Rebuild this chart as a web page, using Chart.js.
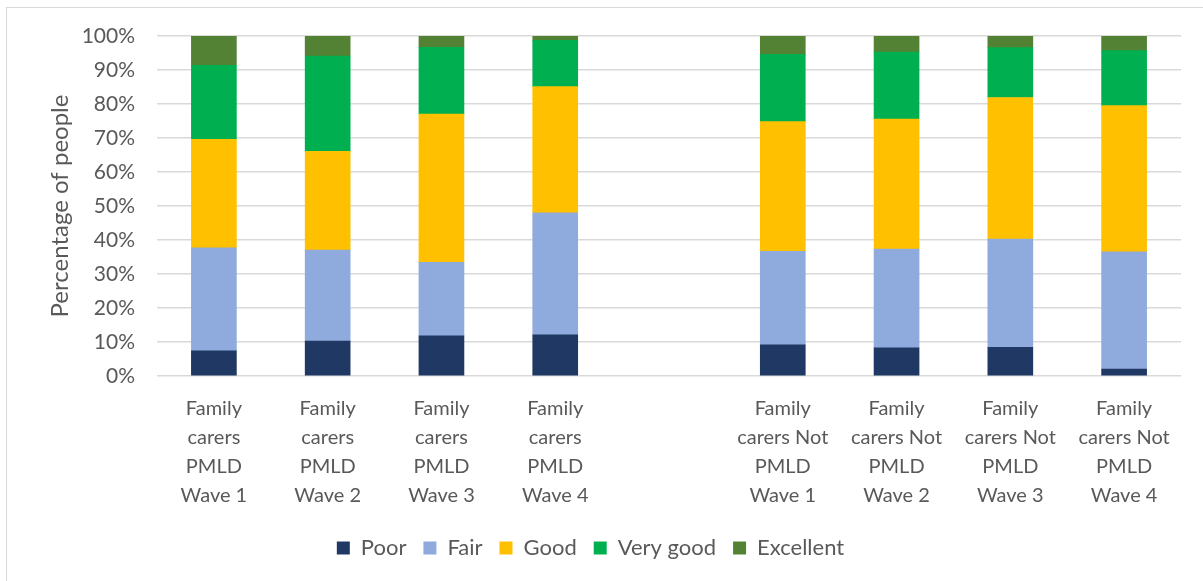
<!DOCTYPE html>
<html>
<head>
<meta charset="utf-8">
<script src="https://cdn.jsdelivr.net/npm/chart.js@4"></script>
<style>
  body { margin: 0; background: #fff; }
  #frame { position: absolute; left: 6px; top: 7px; width: 1300px; height: 700px; border: 1px solid #d9d9d9; }
  #chart { position: absolute; left: 0; top: 0; }
</style>
</head>
<body>
<div id="frame"></div>
<canvas id="chart" width="1203" height="581"></canvas>
<script>
// Categories (empty slot in the middle separates the two groups)
const categories = [
  ['Family', 'carers', 'PMLD', 'Wave 1'],
  ['Family', 'carers', 'PMLD', 'Wave 2'],
  ['Family', 'carers', 'PMLD', 'Wave 3'],
  ['Family', 'carers', 'PMLD', 'Wave 4'],
  '',
  ['Family', 'carers Not', 'PMLD', 'Wave 1'],
  ['Family', 'carers Not', 'PMLD', 'Wave 2'],
  ['Family', 'carers Not', 'PMLD', 'Wave 3'],
  ['Family', 'carers Not', 'PMLD', 'Wave 4']
];

// Percentages
const poor      = [7.4, 10.3, 11.8, 12.1, null, 9.2, 8.3, 8.4, 2.0];
const fair      = [30.3, 26.7, 21.6, 35.9, null, 27.5, 29.0, 31.9, 34.5];
const good      = [31.9, 29.1, 43.6, 37.1, null, 38.1, 38.3, 41.6, 43.0];
const veryGood  = [21.8, 28.0, 19.7, 13.6, null, 19.8, 19.7, 14.7, 16.2];
const excellent = [8.6, 5.9, 3.3, 1.3, null, 5.4, 4.7, 3.4, 4.3];

const yTicks = [0, 10, 20, 30, 40, 50, 60, 70, 80, 90, 100];

const grey = '#595959';
const font = 'Lato, "Open Sans", sans-serif';

function series(label, data, color) {
  return { label, data, backgroundColor: color, borderWidth: 0, barThickness: 45 };
}

new Chart(document.getElementById('chart'), {
  type: 'bar',
  data: {
    labels: categories,
    datasets: [
      series('Poor', poor, '#203864'),
      series('Fair', fair, '#8faadc'),
      series('Good', good, '#ffc000'),
      series('Very good', veryGood, '#00b050'),
      series('Excellent', excellent, '#548235')
    ]
  },
  options: {
    responsive: false,
    animation: false,
    devicePixelRatio: 1,
    layout: { padding: { left: 0, right: 22, top: 36, bottom: 12 } },
    scales: {
      x: {
        stacked: true,
        grid: { display: false, drawTicks: false },
        border: { display: false },
        ticks: {
          color: grey,
          font: { family: font, size: 20, lineHeight: 1.45 },
          padding: 18,
          maxRotation: 0,
          autoSkip: false
        },
        afterFit: scale => { scale.height = 144; }
      },
      y: {
        stacked: true,
        min: 0,
        max: 100,
        afterBuildTicks: scale => { scale.ticks = yTicks.map(v => ({ value: v })); },
        grid: { color: '#d9d9d9', lineWidth: 1.5, drawTicks: false },
        border: { display: false },
        ticks: {
          color: grey,
          font: { family: font, size: 21 },
          padding: 22,
          callback: v => v + '%'
        },
        title: {
          display: true,
          text: 'Percentage of people',
          color: grey,
          font: { family: font, size: 24 },
          padding: { top: 46, bottom: 0 }
        },
        afterFit: scale => { scale.width = 157; }
      }
    },
    plugins: {
      legend: {
        position: 'bottom',
        labels: {
          color: grey,
          font: { family: font, size: 22 },
          boxWidth: 13,
          boxHeight: 13,
          padding: 17
        }
      },
      tooltip: { enabled: false }
    }
  }
});
</script>
</body>
</html>
